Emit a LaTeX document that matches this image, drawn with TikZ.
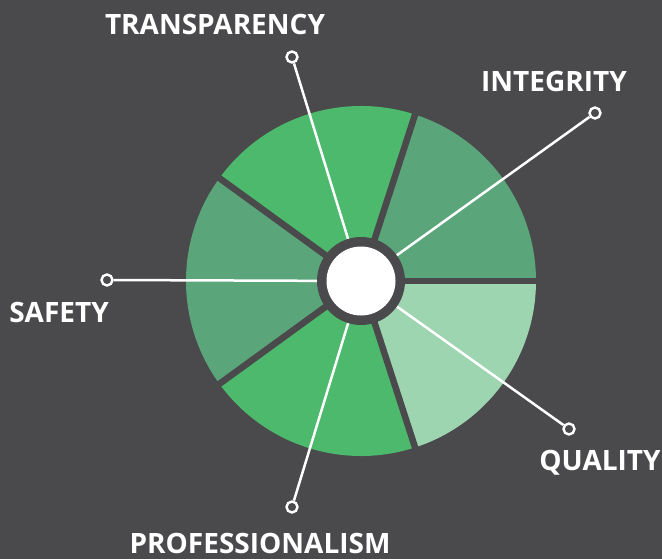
\documentclass[tikz,border=0pt]{standalone}
\usepackage{fontspec}
\setmainfont{Open Sans}
\definecolor{bg}{HTML}{4A4A4C}
\definecolor{gdark}{HTML}{5BA57B}
\definecolor{gbright}{HTML}{4CB96C}
\definecolor{glight}{HTML}{9ED5B1}
\begin{document}
\begin{tikzpicture}[x=1pt,y=-1pt,
  lbl/.style={text=white,font=\bfseries\fontsize{28}{30}\selectfont,inner sep=0pt,anchor=center},
  endpt/.style={circle,draw=white,fill=bg,line width=2.4pt,minimum size=11pt,inner sep=0pt},
  spoke/.style={draw=white,line width=2.5pt},
  gap/.style={draw=bg,line width=6.5pt}]
\fill[bg] (0,0) rectangle (662,559);
\useasboundingbox (0,0) rectangle (662,559);
\coordinate (c) at (361,281);
% wedges (polar angles in pt units: standard orientation on screen)
\fill[gdark]   (c) -- ++(0:175pt) arc[start angle=0,end angle=72,radius=175pt] -- cycle;
\fill[gbright] (c) -- ++(72:175pt) arc[start angle=72,end angle=144,radius=175pt] -- cycle;
\fill[gdark]   (c) -- ++(144:175pt) arc[start angle=144,end angle=216,radius=175pt] -- cycle;
\fill[gbright] (c) -- ++(216:175pt) arc[start angle=216,end angle=288,radius=175pt] -- cycle;
\fill[glight]  (c) -- ++(288:175pt) arc[start angle=288,end angle=360,radius=175pt] -- cycle;
\foreach \a in {0,72,144,216,288}
  \draw[gap] (c) -- ++(\a:182pt);
% end points
\node[endpt] (eT) at (292,57) {};
\node[endpt] (eI) at (595,113) {};
\node[endpt] (eS) at (107,280) {};
\node[endpt] (eQ) at (569,429) {};
\node[endpt] (eP) at (292,507) {};
\foreach \e in {eT,eI,eS,eQ,eP}
  \draw[spoke] (c) -- (\e);
% hub
\fill[bg] (c) circle[radius=44pt];
\fill[white] (c) circle[radius=34.5pt];
% labels
\node[lbl] (lT) at (215,25) {TRANSPARENCY};
\node[lbl] (lI) at (554,82) {INTEGRITY};
\node[lbl] (lS) at (59,312) {SAFETY};
\node[lbl] (lQ) at (600,463) {QUALITY};
\node[lbl] (lP) at (260,543) {PROFESSIONALISM};
\end{tikzpicture}
\end{document}
